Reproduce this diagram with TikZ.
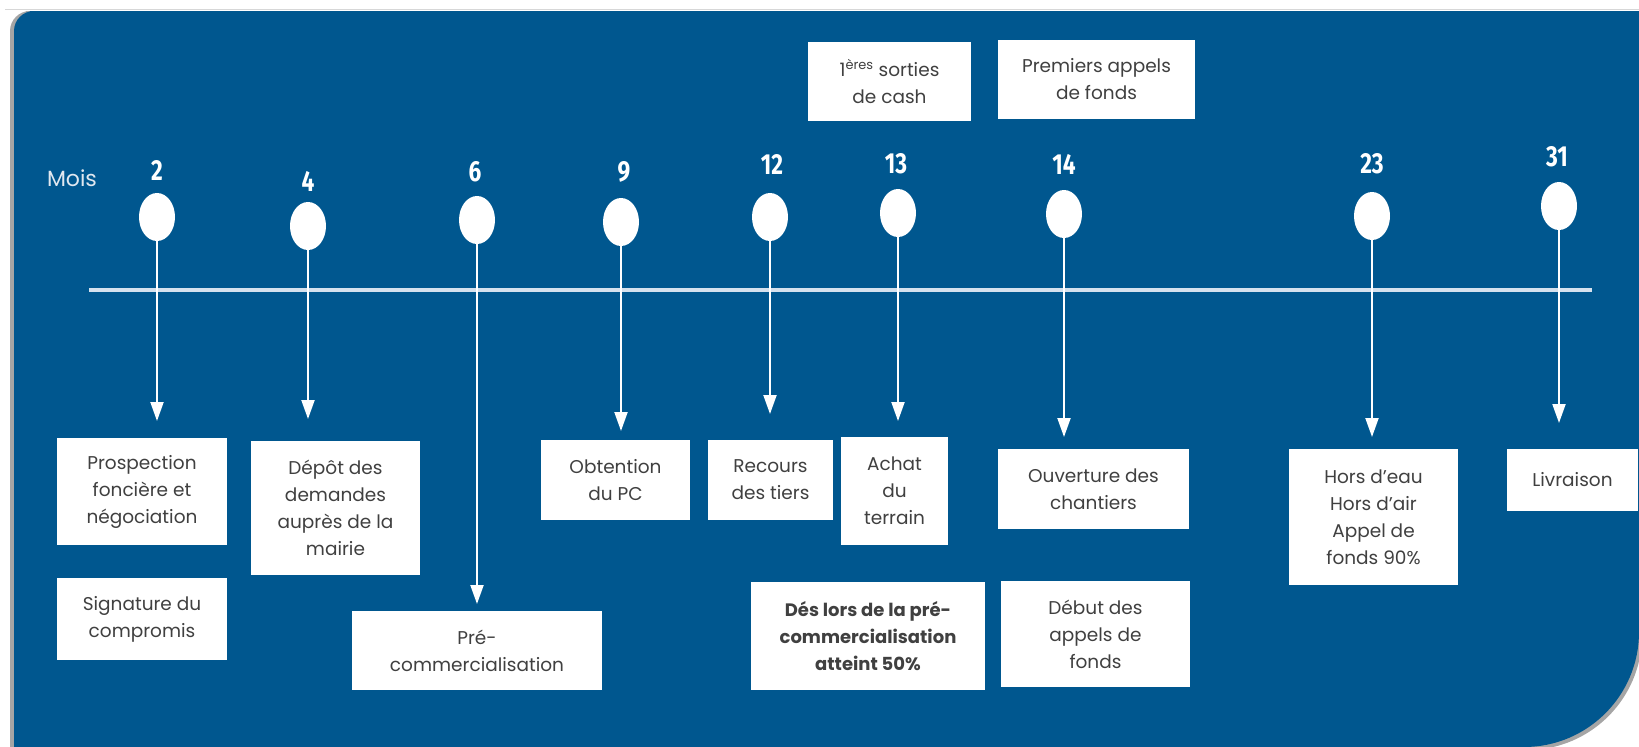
\documentclass[tikz,border=0pt]{standalone}
\usepackage{fontspec}
\setmainfont{Poppins}
\newfontfamily\numfont{Fira Sans}
\usetikzlibrary{arrows.meta,shapes.geometric}
\definecolor{bgblue}{RGB}{0,87,143}
\definecolor{txtgray}{RGB}{64,64,64}
\definecolor{axiscol}{RGB}{214,226,238}
\definecolor{shadowcol}{RGB}{165,165,165}
\definecolor{topline}{RGB}{215,215,215}
\definecolor{moiscol}{RGB}{225,232,240}
\begin{document}
\begin{tikzpicture}[x=1pt,y=-1pt,
  box/.style={fill=white, text=txtgray, align=center, inner sep=0pt,
    font=\fontsize{18.5}{27}\selectfont},
  boldbox/.style={box, font=\bfseries\fontsize{18}{27}\selectfont},
  num/.style={text=white, inner sep=0pt,
    font=\numfont\bfseries\fontsize{29}{29}\selectfont},
  dot/.style={ellipse, fill=white, minimum width=36pt, minimum height=48pt, inner sep=0pt},
  arr/.style={white, line width=2pt, -{Triangle[width=13pt,length=19pt]}},
  axisline/.style={axiscol, line width=3.5pt}
]
\useasboundingbox (0,0) rectangle (1639,747);
% background panel
\def\panel{(30,11) -- (1639,11) -- (1639,632) arc[start angle=0,end angle=90,radius=115]
  -- (14,747) -- (14,31) arc[start angle=180,end angle=270,radius=20] -- cycle}
\fill[shadowcol, xshift=-4pt] \panel;
\fill[shadowcol, xshift=3pt, yshift=-3pt] \panel;
\fill[bgblue] \panel;
\draw[topline, line width=1.5pt] (5,9.5) -- (1639,9.5);

% timeline
\coordinate (axL) at (89,290);
\coordinate (axR) at (1592,290);
\draw[axisline] (axL) -- (axR);

\node[text=moiscol, inner sep=0pt, font=\fontsize{22}{22}\selectfont] (mois) at (72,178) {Mois};

% month numbers
\node[num] (n2)  at (157,170) {\scalebox{0.78}[1]{2}};
\node[num] (n4)  at (308,181) {\scalebox{0.78}[1]{4}};
\node[num] (n6)  at (475,172) {\scalebox{0.78}[1]{6}};
\node[num] (n9)  at (624,172) {\scalebox{0.78}[1]{9}};
\node[num] (n12) at (772,164) {\scalebox{0.78}[1]{12}};
\node[num] (n13) at (896,164) {\scalebox{0.78}[1]{13}};
\node[num] (n14) at (1064,164) {\scalebox{0.78}[1]{14}};
\node[num] (n23) at (1372,164) {\scalebox{0.78}[1]{23}};
\node[num] (n31) at (1557,157) {\scalebox{0.78}[1]{31}};

% dots
\node[dot] (c2)  at (157,217) {};
\node[dot] (c4)  at (308,226) {};
\node[dot] (c6)  at (477,220) {};
\node[dot] (c9)  at (621,222) {};
\node[dot] (c12) at (770,217) {};
\node[dot] (c13) at (898,213) {};
\node[dot] (c14) at (1064,214) {};
\node[dot] (c23) at (1372,216) {};
\node[dot] (c31) at (1559,206) {};

% arrow tips
\coordinate (t2)  at (157,421);
\coordinate (t4)  at (308,419);
\coordinate (t6)  at (477,604);
\coordinate (t9)  at (621,431);
\coordinate (t12) at (770,414);
\coordinate (t13) at (898,421);
\coordinate (t14) at (1064,437);
\coordinate (t23) at (1372,437);
\coordinate (t31) at (1559,423);

\foreach \k in {2,4,6,9,12,13,14,23,31}{
  \draw[arr] (c\k.south) -- (t\k);
}

% boxes
\node[box, minimum width=170pt, minimum height=107pt] (b1) at (142,491.5)
  {Prospection\\fonci\`ere et\\n\'egociation};
\node[box, minimum width=170pt, minimum height=82pt] (b1b) at (142,619)
  {Signature du\\compromis};
\node[box, minimum width=169pt, minimum height=134pt] (b2) at (335.5,508)
  {D\'ep\^ot des\\demandes\\aupr\`es de la\\mairie};
\node[box, minimum width=250pt, minimum height=79pt] (b3) at (477,650.5)
  {Pr\'e-\\commercialisation};
\node[box, minimum width=149pt, minimum height=80pt] (b4) at (615.5,480)
  {Obtention\\du PC};
\node[box, minimum width=125pt, minimum height=80pt] (b5) at (770.5,480)
  {Recours\\des tiers};
\node[box, minimum width=107pt, minimum height=108pt] (b6) at (894.5,491)
  {Achat\\du\\terrain};
\node[box, minimum width=191pt, minimum height=80pt] (b7) at (1093.5,489)
  {Ouverture des\\chantiers};
\node[boldbox, minimum width=234pt, minimum height=108pt] (b8) at (868,636)
  {D\'es lors de la pr\'e-\\commercialisation\\atteint 50\%};
\node[box, minimum width=189pt, minimum height=106pt] (b9) at (1095.5,634)
  {D\'ebut des\\appels de\\fonds};
\node[box, minimum width=169pt, minimum height=136pt] (b10) at (1373.5,517)
  {Hors d’eau\\Hors d’air\\Appel de\\fonds 90\%};
\node[box, minimum width=131pt, minimum height=62pt] (b11) at (1572.5,480)
  {Livraison};
\node[box, minimum width=163pt, minimum height=79pt] (top1) at (889.5,81.5)
  {1\textsuperscript{\`eres} sorties\\de cash};
\node[box, minimum width=197pt, minimum height=79pt] (top2) at (1096.5,79.5)
  {Premiers appels\\de fonds};
\end{tikzpicture}
\end{document}
